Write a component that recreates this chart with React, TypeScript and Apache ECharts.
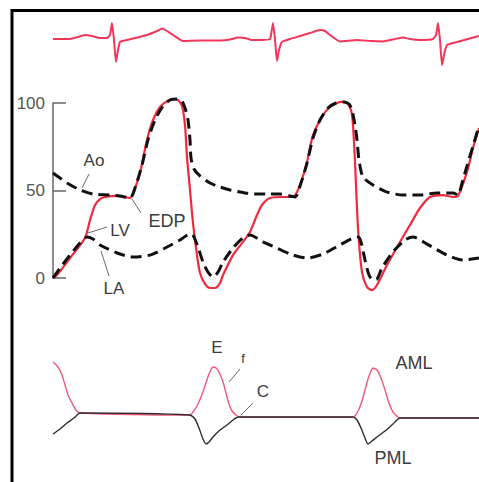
import React, { useEffect, useRef } from "react";
import * as echarts from "echarts";

// time in ms, 0 = start of traces
const ecgSignal: [number, number][] = [
  [0, 0], [85, 0], [125, 0.1], [160, 0.2], [195, 0.15], [235, 0.05], [270, 0.05],
  [285, 0.2], [295, 0.8], [305, -0.05], [315, -1.15], [325, -0.55], [335, -0.15],
  [370, -0.05], [410, 0.05], [470, 0.2], [520, 0.4], [545, 0.52], [570, 0.4], [600, 0.2],
  [650, -0.1], [735, -0.08], [835, -0.08], [885, -0.03], [925, 0.08], [960, 0.05],
  [995, -0.05], [1045, -0.05], [1085, 0], [1090, 0.2], [1100, 0.8], [1110, -0.05],
  [1120, -1.1], [1130, -0.55], [1145, -0.15], [1185, 0], [1235, 0.15], [1285, 0.3],
  [1335, 0.45], [1360, 0.4], [1385, 0.2], [1435, -0.12], [1520, -0.05], [1585, -0.1],
  [1650, -0.12], [1710, 0], [1750, 0.08], [1785, 0], [1835, -0.05], [1900, 0],
  [1915, 0.2], [1925, 0.8], [1935, -0.05], [1945, -1.3], [1955, -0.8], [1970, -0.3],
  [2020, -0.15], [2075, 0], [2130, 0.15],
];

// pressures, mmHg
const lvPressure: [number, number][] = [
  [0, 0], [20, 1.7], [85, 11.4], [160, 22.9], [185, 33.1], [210, 41.7], [235, 45.1],
  [260, 46.3], [320, 46.9], [360, 46.3], [385, 45.7], [410, 51.4], [435, 60], [470, 78.9],
  [500, 90.3], [535, 97.7], [570, 101.1], [600, 102.3], [625, 101.7], [645, 98.3],
  [660, 87.4], [670, 69.1], [685, 50.3], [700, 31.4], [720, 13.1], [735, 2.9],
  [760, -3.4], [785, -5.7], [810, -5.7], [835, -2.9], [850, 1.7], [900, 13.1],
  [950, 20.6], [985, 26.3], [1020, 36], [1045, 41.7], [1085, 45.7], [1150, 46.3],
  [1200, 46.3], [1235, 53.1], [1270, 66.3], [1300, 81.7], [1350, 93.1], [1385, 97.7],
  [1420, 100], [1445, 100.6], [1470, 100], [1490, 96], [1500, 87.4], [1510, 66.3],
  [1525, 28.6], [1545, 3.4], [1570, -5.1], [1595, -6.9], [1620, -4], [1670, 7.4],
  [1735, 20.6], [1785, 30.3], [1835, 40], [1885, 46.3], [1950, 47.4], [2000, 46.3],
  [2025, 46.9], [2070, 60.6], [2100, 74.3], [2130, 85.7],
];

const aoPressure: [number, number][] = [
  [0, 60], [35, 57.1], [70, 54.3], [135, 50.3], [200, 48], [285, 47.4], [335, 46.9],
  [385, 45.7], [415, 53.1], [445, 64.6], [475, 78.9], [510, 90.3], [550, 98.3],
  [585, 101.7], [620, 102.3], [645, 101.1], [660, 97.1], [675, 90.3], [685, 78.9],
  [690, 68.6], [705, 62.3], [735, 58.3], [785, 54.3], [835, 52], [885, 50.3],
  [960, 48.6], [1020, 48], [1085, 48], [1135, 48], [1185, 46.9], [1210, 46.3],
  [1240, 54.3], [1270, 65.7], [1300, 80], [1335, 90.3], [1375, 97.1], [1415, 100],
  [1455, 100.6], [1480, 99.4], [1495, 96], [1510, 87.4], [1520, 78.9], [1530, 67.4],
  [1550, 57.7], [1600, 53.1], [1670, 49.1], [1750, 47.4], [1835, 47.4], [1920, 48.6],
  [2000, 48.6], [2025, 47.4], [2045, 54.3], [2070, 64], [2100, 75.4], [2130, 86.9],
];

const laPressure: [number, number][] = [
  [0, 0], [35, 5.7], [85, 13.1], [135, 20], [170, 23.4], [200, 22.3], [235, 18.9],
  [320, 14.3], [400, 12], [485, 13.1], [570, 17.7], [635, 21.7], [685, 25.1],
  [700, 24.6], [725, 17.7], [750, 9.1], [775, 3.4], [800, 0.6], [825, 3.4], [850, 9.1],
  [900, 17.1], [950, 22.9], [985, 24.6], [1050, 20.6], [1120, 17.1], [1185, 13.7],
  [1270, 11.4], [1350, 13.7], [1435, 18.9], [1500, 22.9], [1525, 23.4], [1540, 20.6],
  [1560, 10.3], [1580, 1.7], [1600, -1.1], [1620, -0.6], [1645, 5.7], [1700, 14.9],
  [1760, 21.7], [1800, 23.4], [1870, 19.4], [1970, 13.1], [2050, 10.3], [2130, 11.4],
];

// mitral valve leaflet echo, mm
const amlMotion: [number, number][] = [
  [0, 26.5], [25, 24], [45, 20], [60, 15], [75, 10], [95, 6], [115, 2.5], [135, 1],
  [685, 0], [700, 1.5], [720, 4.5], [740, 9], [760, 14.5], [780, 20.5], [800, 24],
  [815, 23.5], [830, 21.5], [850, 16.5], [865, 11], [880, 5.5], [895, 2], [915, 0],
  [935, -1], [1500, -1], [1520, 1], [1540, 5.5], [1560, 12.5], [1580, 19.5],
  [1600, 23.5], [1620, 22.5], [1640, 18.5], [1660, 12.5], [1680, 6], [1700, 1.5],
  [1735, -1.5], [2130, -1.5],
];

const pmlMotion: [number, number][] = [
  [0, -9.5], [35, -7], [70, -4], [105, -1.5], [135, 1], [685, 0], [710, -2],
  [730, -6.5], [750, -12], [765, -14.5], [780, -13.5], [800, -11], [835, -7.5],
  [870, -5], [900, -2.5], [925, -1], [935, -1], [1500, -1], [1520, -2.5], [1540, -6.5],
  [1560, -11.5], [1575, -14.5], [1595, -13], [1620, -11], [1660, -8], [1700, -4.5],
  [1735, -1.5], [2130, -1.5],
];

const pressureTicks = [0, 50, 100];

const FONT = "'Liberation Sans', Arial, Helvetica, sans-serif";
const TEXT = "#3c3c3c";
const LEADER = "#6a6a6a";

function label(text: string, x: number, y: number, size = 17) {
  return {
    type: "text",
    x,
    y,
    z: 50,
    style: {
      text,
      fill: TEXT,
      font: `${size}px ${FONT}`,
      textAlign: "center",
      textVerticalAlign: "middle",
    },
  };
}

function leader(x1: number, y1: number, x2: number, y2: number) {
  return {
    type: "line",
    z: 50,
    shape: { x1, y1, x2, y2 },
    style: { stroke: LEADER, lineWidth: 1 },
  };
}

export default function App() {
  const ref = useRef<HTMLDivElement>(null);

  useEffect(() => {
    if (!ref.current) return;
    const chart = echarts.init(ref.current, undefined, { renderer: "svg" });
    const xCommon = { type: "value", min: 0, max: 2130, show: false };
    const dashed = { color: "#111", width: 3, type: [11, 6] as number[], cap: "butt" };
    chart.setOption({
      animation: false,
      backgroundColor: "#ffffff",
      grid: [
        { left: 53, right: 0, top: 19, height: 50 },
        { left: 53, right: 0, top: 103, height: 175 },
        { left: 53, right: 0, top: 355, height: 96 },
      ],
      xAxis: [
        { ...xCommon, gridIndex: 0 },
        { ...xCommon, gridIndex: 1 },
        { ...xCommon, gridIndex: 2 },
      ],
      yAxis: [
        { type: "value", gridIndex: 0, min: -1.5, max: 1.0, show: false },
        {
          type: "value",
          gridIndex: 1,
          min: 0,
          max: 100,
          interval: 50,
          axisLine: { show: true, lineStyle: { color: "#666", width: 1.5 } },
          axisTick: { show: true, inside: true, length: 13, lineStyle: { color: "#666", width: 1.5 } },
          splitLine: { show: false },
          axisLabel: {
            margin: 8,
            fontSize: 17,
            fontFamily: FONT,
            color: "#555",
            formatter: (v: number) => (pressureTicks.includes(v) ? String(v) : ""),
          },
        },
        { type: "value", gridIndex: 2, min: -18, max: 30, show: false },
      ],
      series: [
        {
          name: "ECG",
          type: "line",
          xAxisIndex: 0,
          yAxisIndex: 0,
          data: ecgSignal,
          showSymbol: false,
          smooth: 0.15,
          clip: false,
          lineStyle: { color: "#f2365a", width: 2 },
        },
        {
          name: "LV",
          type: "line",
          xAxisIndex: 1,
          yAxisIndex: 1,
          data: lvPressure,
          showSymbol: false,
          smooth: 0.25,
          clip: false,
          z: 2,
          lineStyle: { color: "#f2283c", width: 2.2 },
        },
        {
          name: "Ao",
          type: "line",
          xAxisIndex: 1,
          yAxisIndex: 1,
          data: aoPressure,
          showSymbol: false,
          smooth: 0.25,
          clip: false,
          z: 3,
          lineStyle: dashed,
        },
        {
          name: "LA",
          type: "line",
          xAxisIndex: 1,
          yAxisIndex: 1,
          data: laPressure,
          showSymbol: false,
          smooth: 0.25,
          clip: false,
          z: 3,
          lineStyle: dashed,
        },
        {
          name: "AML",
          type: "line",
          xAxisIndex: 2,
          yAxisIndex: 2,
          data: amlMotion,
          showSymbol: false,
          smooth: 0.2,
          clip: false,
          z: 2,
          lineStyle: { color: "#f0587a", width: 1.4 },
        },
        {
          name: "PML",
          type: "line",
          xAxisIndex: 2,
          yAxisIndex: 2,
          data: pmlMotion,
          showSymbol: false,
          smooth: 0.2,
          clip: false,
          z: 3,
          lineStyle: { color: "#2e2a30", width: 1.4 },
        },
      ],
      graphic: [
        {
          type: "rect",
          z: 100,
          shape: { x: 12, y: 10.5, width: 600, height: 600 },
          style: { fill: "none", stroke: "#000", lineWidth: 3 },
        },
        label("Ao", 94, 160),
        leader(89, 174, 82, 188),
        label("EDP", 167, 221, 18),
        leader(132, 199, 141, 213),
        label("LV", 120, 230),
        leader(88, 233, 107, 227),
        label("LA", 114, 288),
        leader(101, 251, 109, 276),
        label("E", 217, 347),
        label("f", 243, 358, 13),
        leader(240, 369, 229, 382),
        label("C", 263, 391),
        leader(253, 403, 241, 415),
        label("AML", 414, 363, 18),
        label("PML", 393, 458, 18),
      ],
    });
    return () => chart.dispose();
  }, []);

  return (
    <div
      ref={ref}
      style={{ position: "fixed", left: 0, top: 0, width: 479, height: 482, background: "#fff" }}
    />
  );
}
